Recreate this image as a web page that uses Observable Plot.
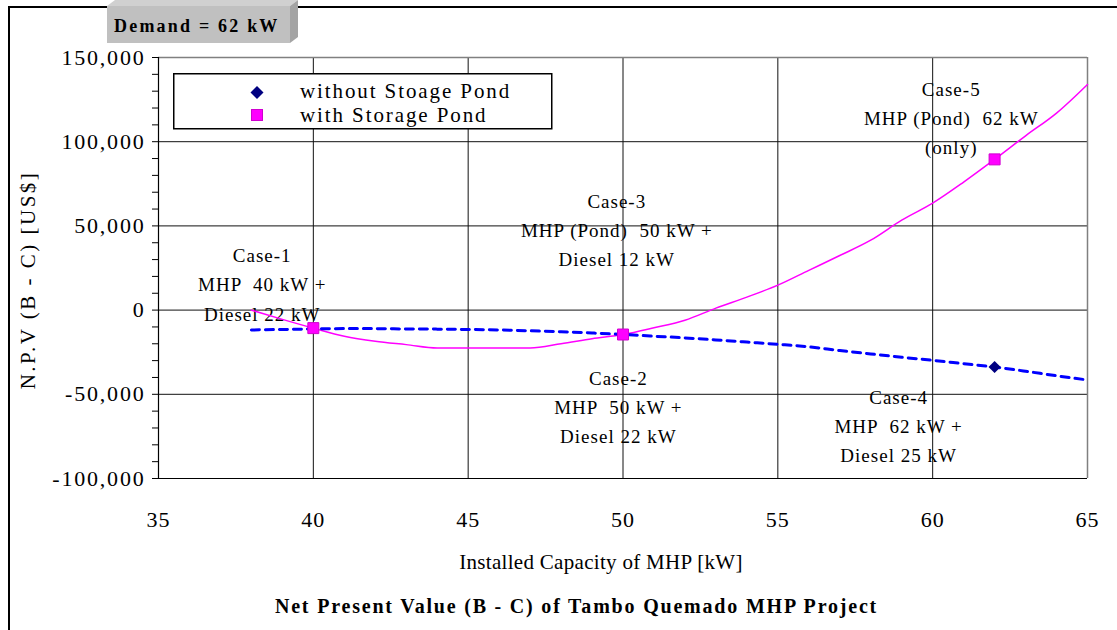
<!DOCTYPE html>
<html>
<head>
<meta charset="utf-8">
<script src="https://cdn.jsdelivr.net/npm/d3@7"></script>
<script src="https://cdn.jsdelivr.net/npm/@observablehq/plot@0.6"></script>
<style>
  body { margin: 0; background: #fff; font-family: "Liberation Serif", "Times New Roman", serif; }
  #wrap { position: relative; width: 1117px; height: 630px; overflow: hidden; background: #fff; }
  #chart { position: absolute; left: 0; top: 0; }
  #frame { position: absolute; left: 8px; top: 6px; width: 1300px; height: 800px;
           border-left: 2px solid #000; border-top: 2px solid #000; }
  #demand { position: absolute; left: 0; top: 0; }
  #legend { position: absolute; left: 173px; top: 73px; }
  #title { position: absolute; left: 18px; top: 594px; width: 1117px; text-align: center;
           font-weight: bold; font-size: 20px; line-height: 24px; letter-spacing: 1.8px; }
  #chart g[aria-label="y-axis tick label"] text { letter-spacing: 1.8px; }
  #chart g[aria-label="x-axis tick label"] text { letter-spacing: 1px; }
  #chart text[aria-label="case notes"] { letter-spacing: 1px; }
  #chart text[aria-label="y label"] { letter-spacing: 2.5px; }
  #chart text[aria-label="x label"] { letter-spacing: 0.3px; }
</style>
</head>
<body>
<div id="wrap">
  <div id="chart"></div>
  <div id="frame"></div>
  <svg id="demand" width="320" height="50">
    <polygon points="107,6 115,0 298,0 290,6" fill="#d0d0d0"/>
    <polygon points="290,6 298,0 298,37 290,43" fill="#a4a4a4"/>
    <rect x="107" y="6" width="183" height="37" fill="#c0c0c0"/>
    <text x="114" y="32" font-family="Liberation Serif, serif" font-weight="bold" font-size="18" letter-spacing="2.2">Demand = 62 kW</text>
  </svg>
  <svg id="legend" width="380" height="57">
    <rect x="0.75" y="0.75" width="378" height="55" fill="#fff" stroke="#000" stroke-width="1.5"/>
    <path d="M84,13 L90.5,19.5 L84,26 L77.5,19.5 Z" fill="#000080"/>
    <rect x="78.5" y="36.5" width="11" height="11" fill="#ff00ff" stroke="#d000d0" stroke-width="1"/>
    <text x="127" y="25" font-family="Liberation Serif, serif" font-size="21" letter-spacing="1.9">without Stoage Pond</text>
    <text x="127" y="49" font-family="Liberation Serif, serif" font-size="21" letter-spacing="1.9">with Storage Pond</text>
  </svg>
  <div id="title">Net Present Value (B - C) of Tambo Quemado MHP Project</div>
</div>
<script>
// Installed MHP capacity [kW] and net present value (B - C) [US$]
const capacityKW = [38, 39, 40, 41, 42, 43, 44, 45, 46, 47, 48, 49, 50, 51,
                    52, 53, 54, 55, 56, 57, 58, 59, 60, 61, 62, 63, 64, 65];
const npvWithPond = [0, -5500, -10700, -15500, -18500, -20500, -22500, -22500, -22500, -22500,
                     -20000, -17000, -14500, -10500, -6000, 1200, 7700, 14800, 23600, 32400,
                     41500, 53400, 63500, 76000, 89500, 103500, 117000, 134000];
const npvWithoutPond = [-11800, -11500, -11200, -11000, -11000, -11200, -11300, -11500, -11800, -12300,
                        -12900, -13600, -14500, -15500, -16500, -17700, -19000, -20300, -21800, -24000,
                        -26000, -28000, -29800, -31800, -33800, -36300, -39000, -41500];

// Highlighted cases on each curve
const pondCasesKW = [40, 50, 62];
const noPondCasesKW = [62];

// Case notes and their anchor points (kW, US$)
const caseText = [
  "Case-1\nMHP  40 kW +\nDiesel 22 kW",
  "Case-3\nMHP (Pond)  50 kW +\nDiesel 12 kW",
  "Case-2\nMHP  50 kW +\nDiesel 22 kW",
  "Case-4\nMHP  62 kW +\nDiesel 25 kW",
  "Case-5\nMHP (Pond)  62 kW\n(only)"
];
const caseAtKW = [38.35, 49.8, 49.85, 58.9, 60.6];
const caseAtUSD = [16600, 48700, -56400, -67700, 115200];

// Axis ticks
const xTicks = [35, 40, 45, 50, 55, 60, 65];
const yTicks = [-100000, -50000, 0, 50000, 100000, 150000];
const yMinorTicks = [-90000, -80000, -70000, -60000, -40000, -30000, -20000, -10000,
                     10000, 20000, 30000, 40000, 60000, 70000, 80000, 90000,
                     110000, 120000, 130000, 140000];

const withPond = capacityKW.map((kw, i) => ({kw, npv: npvWithPond[i]}));
const withoutPond = capacityKW.map((kw, i) => ({kw, npv: npvWithoutPond[i]}));
const pondCases = withPond.filter(d => pondCasesKW.includes(d.kw));
const noPondCases = withoutPond.filter(d => noPondCasesKW.includes(d.kw));
const notes = caseText.map((text, i) => ({text, kw: caseAtKW[i], npv: caseAtUSD[i]}));

// thousands separators with a plain hyphen for negatives
const usd = v => d3.format(",")(v).replace("\u2212", "-");

const chart = Plot.plot({
  width: 1117,
  height: 600,
  marginLeft: 158,
  marginRight: 30,
  marginTop: 57,
  marginBottom: 122,
  style: {background: "transparent", fontFamily: "Liberation Serif, Times New Roman, serif", color: "#000"},
  x: {domain: [35, 65]},
  y: {domain: [-100000, 150000]},
  marks: [
    // grid
    Plot.ruleX(xTicks.filter(v => v > 35 && v < 65), {stroke: "#111", strokeWidth: 1}),
    Plot.ruleY(yTicks.filter(v => v > -100000 && v < 150000), {stroke: "#111", strokeWidth: 1}),
    Plot.ruleX([65], {stroke: "#808080", strokeWidth: 1.5}),
    Plot.ruleY([150000], {stroke: "#808080", strokeWidth: 1.5}),
    Plot.ruleX([35], {stroke: "#000", strokeWidth: 1.2}),
    Plot.ruleY([-100000], {stroke: "#000", strokeWidth: 1.2}),
    // axes
    Plot.axisY({ticks: yMinorTicks, tickSize: 6, tickFormat: () => "", label: null}),
    Plot.axisY({ticks: yTicks, tickSize: 6, tickPadding: 7, tickFormat: usd, label: null, fontSize: 22}),
    Plot.axisX({ticks: xTicks, tickSize: 0, tickPadding: 33, label: null, fontSize: 22}),
    Plot.text(["N.P.V (B - C) [US$]"], {frameAnchor: "left", dx: -130, dy: 12, rotate: -90,
      textAnchor: "middle", lineAnchor: "middle", fontSize: 21, ariaLabel: () => "y label"}),
    Plot.text(["Installed Capacity of MHP [kW]"], {frameAnchor: "bottom", dx: -22, dy: 84,
      textAnchor: "middle", lineAnchor: "middle", fontSize: 21, ariaLabel: () => "x label"}),
    // case notes
    Plot.text(notes, {x: "kw", y: "npv", text: "text", fontSize: 19, lineHeight: 1.53,
      textAnchor: "middle", lineAnchor: "middle", fill: "#000", ariaLabel: () => "case notes"}),
    // series
    Plot.line(withPond, {x: "kw", y: "npv", stroke: "#ff00ff", strokeWidth: 1.5, curve: "monotone-x"}),
    Plot.line(withoutPond, {x: "kw", y: "npv", stroke: "#0000ff", strokeWidth: 3, strokeDasharray: "8,6", curve: "monotone-x"}),
    Plot.dot(pondCases, {x: "kw", y: "npv", symbol: "square", r: 6.2, fill: "#ff00ff", stroke: "#d000d0", strokeWidth: 1}),
    Plot.dot(noPondCases, {x: "kw", y: "npv", symbol: "diamond2", r: 5.5, fill: "#000080", stroke: "none"})
  ]
});
document.getElementById("chart").appendChild(chart);
</script>
</body>
</html>
